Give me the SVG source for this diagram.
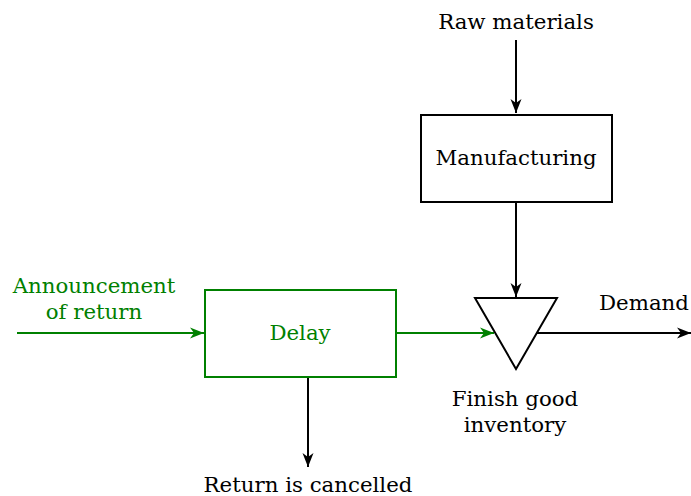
<svg xmlns="http://www.w3.org/2000/svg" width="691" height="496" viewBox="0 0 691 496">
<style>
text{font-family:"DejaVu Serif",serif;font-size:21.3px;text-anchor:middle;fill:#000}
.g{fill:#008000}
.box{fill:#fff;stroke:#000;stroke-width:2}
.gbox{fill:#fff;stroke:#008000;stroke-width:2}
.c{fill:none;stroke:#000;stroke-width:2}
.gc{fill:none;stroke:#008000;stroke-width:2}
</style>
<defs>
<marker id="ak" markerUnits="userSpaceOnUse" markerWidth="16" markerHeight="12" viewBox="-14 -6 16 12" refX="0" refY="0" orient="auto" overflow="visible">
<path d="M0,0 L-14,-5.5 L-10,0 L-14,5.5 Z" fill="#000"/>
</marker>
<marker id="ag" markerUnits="userSpaceOnUse" markerWidth="16" markerHeight="12" viewBox="-14 -6 16 12" refX="0" refY="0" orient="auto" overflow="visible">
<path d="M0,0 L-14,-5.5 L-10,0 L-14,5.5 Z" fill="#008000"/>
</marker>
</defs>
<g id="connectors">
<line class="c" x1="516" y1="40" x2="516" y2="113" marker-end="url(#ak)"/>
<line class="c" x1="516" y1="202" x2="516" y2="297" marker-end="url(#ak)"/>
<line class="gc" x1="17" y1="333" x2="204" y2="333" marker-end="url(#ag)"/>
<line class="gc" x1="396" y1="333" x2="494" y2="333" marker-end="url(#ag)"/>
<line class="c" x1="537" y1="333" x2="691" y2="333" marker-end="url(#ak)"/>
<line class="c" x1="308" y1="377" x2="308" y2="467" marker-end="url(#ak)"/>
</g>
<g id="raw"><text x="516" y="29">Raw materials</text></g>
<g id="manufacturing">
<rect class="box" x="421" y="115" width="191" height="87"/>
<text x="516" y="165">Manufacturing</text>
</g>
<g id="announcement">
<text class="g" x="94" y="293">Announcement</text>
<text class="g" x="94" y="319">of return</text>
</g>
<g id="delay">
<rect class="gbox" x="205" y="290" width="191" height="87"/>
<text class="g" x="300" y="340">Delay</text>
</g>
<g id="inventory">
<polygon points="475,298 557,298 516,369" fill="#fff" stroke="#000" stroke-width="2" stroke-linejoin="miter"/>
<text x="515" y="406">Finish good</text>
<text x="515" y="432">inventory</text>
</g>
<g id="demand"><text x="644" y="310">Demand</text></g>
<g id="cancelled"><text x="308" y="492">Return is cancelled</text></g>
</svg>
